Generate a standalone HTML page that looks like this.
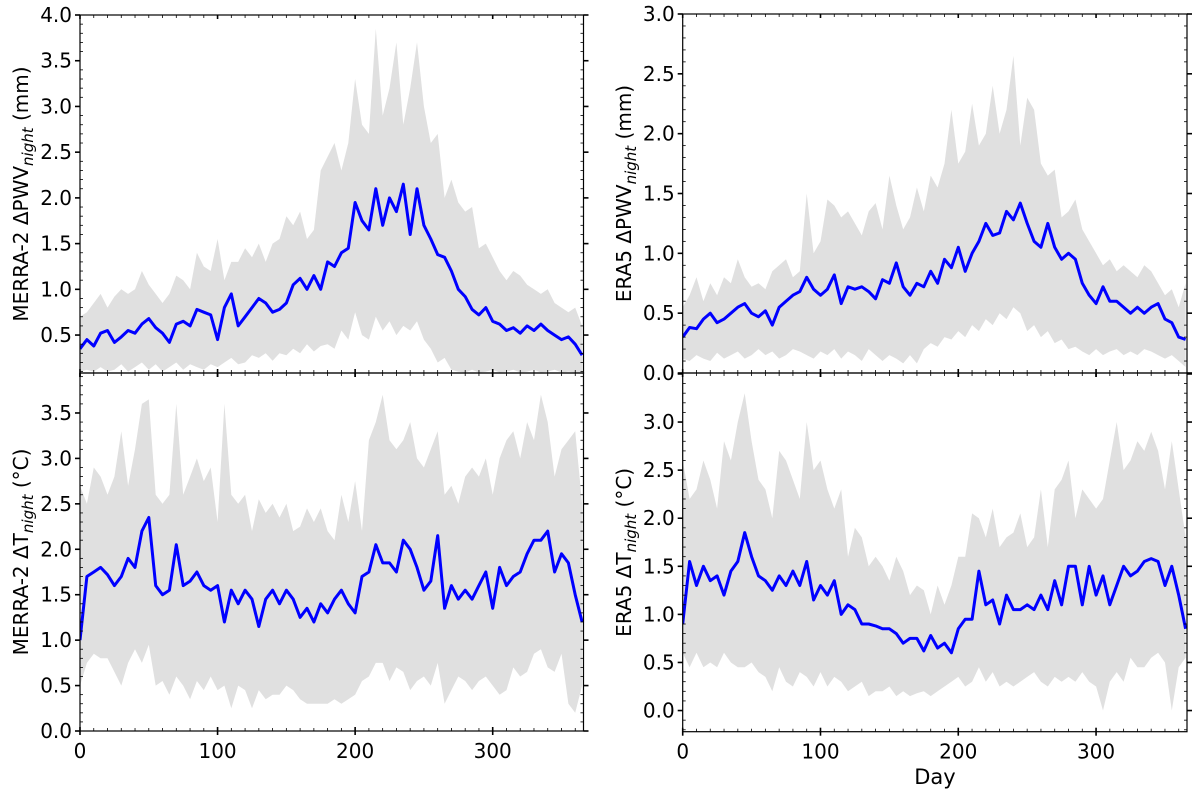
<!DOCTYPE html>
<html><head><meta charset="utf-8"><style>
html,body{margin:0;padding:0;background:#fff}
svg{display:block;font-family:"DejaVu Sans","Liberation Sans",sans-serif}
</style></head><body>
<svg id="chart" width="1200" height="796" viewBox="0 0 1200 796"></svg>
<script>
const days=[0,5,10,15,20,25,30,35,40,45,50,55,60,65,70,75,80,85,90,95,100,105,110,115,120,125,130,135,140,145,150,155,160,165,170,175,180,185,190,195,200,205,210,215,220,225,230,235,240,245,250,255,260,265,270,275,280,285,290,295,300,305,310,315,320,325,330,335,340,345,350,355,360,365];
const merraPwvMean=[0.35,0.45,0.38,0.52,0.55,0.42,0.48,0.55,0.52,0.62,0.68,0.58,0.52,0.42,0.62,0.65,0.60,0.78,0.75,0.72,0.45,0.80,0.95,0.60,0.70,0.80,0.90,0.85,0.75,0.78,0.85,1.05,1.12,1.0,1.15,1.0,1.3,1.25,1.4,1.45,1.95,1.75,1.65,2.1,1.7,2.0,1.85,2.15,1.6,2.1,1.7,1.55,1.38,1.35,1.2,1.0,0.92,0.78,0.72,0.80,0.65,0.62,0.55,0.58,0.52,0.60,0.55,0.62,0.55,0.50,0.45,0.48,0.40,0.28];
const merraPwvUpper=[0.7,0.75,0.85,0.95,0.80,0.92,1.0,0.95,1.0,1.2,1.05,0.95,0.85,0.95,1.15,1.1,1.0,1.4,1.25,1.2,1.55,1.1,1.3,1.3,1.45,1.35,1.5,1.3,1.5,1.55,1.8,1.7,1.85,1.55,1.65,2.3,2.45,2.6,2.3,2.6,3.3,2.8,2.7,3.85,2.9,3.2,3.7,2.8,3.2,3.7,3.0,2.6,2.7,2.0,2.2,1.95,1.85,1.9,1.45,1.5,1.35,1.2,1.1,1.2,1.15,1.05,1.0,0.95,1.0,0.85,0.8,0.75,0.80,0.60];
const merraPwvLower=[0.10,0.12,0.10,0.15,0.10,0.12,0.18,0.10,0.15,0.20,0.12,0.18,0.10,0.15,0.20,0.12,0.18,0.15,0.12,0.18,0.15,0.20,0.25,0.18,0.20,0.28,0.25,0.30,0.22,0.30,0.28,0.35,0.30,0.40,0.32,0.38,0.40,0.35,0.55,0.45,0.75,0.50,0.45,0.70,0.55,0.65,0.50,0.60,0.55,0.65,0.45,0.35,0.20,0.25,0.12,0.10,0.09,0.12,0.09,0.10,0.12,0.09,0.10,0.12,0.09,0.10,0.12,0.09,0.10,0.12,0.09,0.10,0.09,0.09];
const eraPwvMean=[0.30,0.38,0.37,0.45,0.50,0.42,0.45,0.50,0.55,0.58,0.50,0.47,0.52,0.40,0.55,0.60,0.65,0.68,0.80,0.70,0.65,0.70,0.82,0.58,0.72,0.70,0.72,0.68,0.62,0.78,0.75,0.92,0.72,0.65,0.75,0.72,0.85,0.75,0.95,0.88,1.05,0.85,1.0,1.1,1.25,1.15,1.17,1.35,1.28,1.42,1.25,1.1,1.05,1.25,1.05,0.95,1.0,0.95,0.75,0.65,0.58,0.72,0.60,0.60,0.55,0.50,0.55,0.50,0.55,0.58,0.45,0.42,0.30,0.28];
const eraPwvUpper=[0.55,0.65,0.8,0.6,0.75,0.65,0.8,0.75,0.95,0.8,0.72,0.75,0.7,0.85,0.9,0.95,0.8,0.85,1.5,1.0,1.1,1.45,1.4,1.3,1.35,1.25,1.15,1.35,1.42,1.2,1.65,1.4,1.2,1.3,1.55,1.35,1.65,1.55,1.75,2.2,1.75,1.85,2.25,1.9,2.0,2.4,2.0,2.2,2.65,1.9,2.3,2.2,1.75,1.65,1.7,1.3,1.35,1.45,1.2,1.1,1.0,0.9,0.95,0.85,0.9,0.85,0.8,0.9,0.85,0.75,0.65,0.7,0.55,0.75];
const eraPwvLower=[0.12,0.10,0.15,0.12,0.10,0.17,0.12,0.15,0.18,0.12,0.15,0.20,0.15,0.18,0.12,0.15,0.20,0.18,0.15,0.12,0.18,0.15,0.20,0.12,0.18,0.15,0.10,0.20,0.15,0.10,0.15,0.12,0.08,0.15,0.08,0.20,0.25,0.22,0.30,0.28,0.35,0.30,0.40,0.35,0.45,0.40,0.50,0.45,0.55,0.50,0.35,0.40,0.30,0.35,0.25,0.28,0.20,0.22,0.18,0.15,0.20,0.15,0.18,0.20,0.15,0.18,0.15,0.20,0.18,0.15,0.12,0.15,0.10,0.05];
const merraDtMean=[1.0,1.7,1.75,1.8,1.72,1.6,1.7,1.9,1.8,2.2,2.35,1.6,1.5,1.55,2.05,1.6,1.65,1.75,1.6,1.55,1.6,1.2,1.55,1.4,1.55,1.45,1.15,1.45,1.55,1.4,1.55,1.45,1.25,1.35,1.2,1.4,1.3,1.45,1.55,1.4,1.3,1.7,1.75,2.05,1.85,1.85,1.75,2.1,2.0,1.8,1.55,1.65,2.15,1.35,1.6,1.45,1.55,1.45,1.6,1.75,1.35,1.8,1.6,1.7,1.75,1.95,2.1,2.1,2.2,1.75,1.95,1.85,1.5,1.2];
const merraDtUpper=[2.7,2.5,2.9,2.8,2.6,2.8,3.3,2.7,3.1,3.6,3.65,2.6,2.5,2.6,3.6,2.6,2.8,3.0,2.75,2.9,2.3,3.6,2.6,2.5,2.6,2.2,2.55,2.4,2.5,2.35,2.5,2.2,2.25,2.45,2.3,2.45,2.2,2.1,2.6,2.3,2.75,2.2,3.2,3.4,3.7,3.2,3.1,3.2,3.4,3.0,2.9,3.1,3.3,2.6,2.7,2.5,2.8,2.9,2.8,3.0,2.6,3.0,3.2,3.3,3.0,3.4,3.2,3.7,3.4,2.8,3.1,3.2,3.3,2.5];
const merraDtLower=[0.5,0.75,0.85,0.8,0.8,0.65,0.5,0.75,0.9,0.75,0.95,0.5,0.55,0.4,0.6,0.5,0.35,0.55,0.45,0.6,0.45,0.5,0.25,0.5,0.45,0.25,0.45,0.35,0.4,0.4,0.5,0.45,0.35,0.3,0.3,0.3,0.3,0.35,0.3,0.35,0.4,0.55,0.6,0.75,0.75,0.55,0.7,0.65,0.45,0.55,0.6,0.5,0.75,0.3,0.45,0.6,0.55,0.45,0.55,0.6,0.5,0.4,0.45,0.7,0.6,0.65,0.85,0.9,0.7,0.65,0.85,0.3,0.2,0.5];
const eraDtMean=[0.9,1.55,1.3,1.5,1.35,1.4,1.2,1.45,1.55,1.85,1.6,1.4,1.35,1.25,1.4,1.3,1.45,1.3,1.55,1.15,1.3,1.2,1.35,1.0,1.1,1.05,0.9,0.9,0.88,0.85,0.85,0.8,0.7,0.75,0.75,0.62,0.78,0.65,0.7,0.6,0.85,0.95,0.95,1.45,1.1,1.15,0.9,1.2,1.05,1.05,1.1,1.05,1.2,1.05,1.35,1.1,1.5,1.5,1.1,1.5,1.2,1.4,1.1,1.3,1.5,1.4,1.45,1.55,1.58,1.55,1.3,1.5,1.2,0.85];
const eraDtUpper=[2.6,2.2,2.3,2.6,2.4,2.1,2.8,2.6,3.0,3.3,2.8,2.4,2.3,2.0,2.7,2.6,2.4,2.2,3.0,2.5,2.6,2.3,2.1,2.3,1.6,1.9,1.8,1.5,1.6,1.5,1.35,1.6,1.45,1.2,1.3,1.25,1.0,1.3,1.1,1.3,1.6,1.6,2.05,2.0,1.8,2.1,1.7,1.8,1.85,2.05,1.7,1.8,2.3,1.7,2.3,2.4,2.6,2.0,2.3,2.2,2.1,2.2,2.6,3.0,2.5,2.6,2.8,2.7,2.9,2.7,2.3,2.8,2.3,1.8];
const eraDtLower=[0.6,0.45,0.6,0.45,0.5,0.45,0.6,0.5,0.45,0.45,0.5,0.4,0.35,0.2,0.45,0.3,0.25,0.4,0.35,0.25,0.4,0.25,0.35,0.3,0.2,0.25,0.3,0.15,0.2,0.2,0.25,0.15,0.2,0.15,0.18,0.2,0.15,0.2,0.25,0.3,0.35,0.25,0.3,0.45,0.3,0.4,0.25,0.3,0.25,0.3,0.35,0.4,0.3,0.25,0.35,0.3,0.35,0.3,0.4,0.3,0.25,0.0,0.3,0.4,0.3,0.55,0.45,0.45,0.55,0.6,0.5,0.0,0.45,0.55];
const xTicks=[0,100,200,300];
const tlTicks=["0.5","1.0","1.5","2.0","2.5","3.0","3.5","4.0"];
const trTicks=["0.0","0.5","1.0","1.5","2.0","2.5","3.0"];
const blTicks=["0.0","0.5","1.0","1.5","2.0","2.5","3.0","3.5"];
const brTicks=["0.0","0.5","1.0","1.5","2.0","2.5","3.0"];

const NS="http://www.w3.org/2000/svg";
const svg=document.getElementById('chart');
function mk(tag,attrs,parent){const e=document.createElementNS(NS,tag);for(const k in attrs)e.setAttribute(k,attrs[k]);(parent||svg).appendChild(e);return e;}

const panels=[
 {name:'merra-pwv',x0:80,x1:583.5,y0:15,y1:373,ymin:0.085,ymax:4.0,mean:merraPwvMean,up:merraPwvUpper,lo:merraPwvLower,ticks:tlTicks,xl:false,lab:['MERRA-2 ΔPWV','night',' (mm)'],lx:28},
 {name:'era5-pwv',x0:682.7,x1:1187,y0:14,y1:373,ymin:0,ymax:3.0,mean:eraPwvMean,up:eraPwvUpper,lo:eraPwvLower,ticks:trTicks,xl:false,lab:['ERA5 ΔPWV','night',' (mm)'],lx:631},
 {name:'merra-dt',x0:80,x1:583.5,y0:373,y1:731,ymin:0,ymax:3.94,mean:merraDtMean,up:merraDtUpper,lo:merraDtLower,ticks:blTicks,xl:true,lab:['MERRA-2 ΔT','night',' (°C)'],lx:28},
 {name:'era5-dt',x0:682.7,x1:1187,y0:373,y1:731.7,ymin:-0.22,ymax:3.51,mean:eraDtMean,up:eraDtUpper,lo:eraDtLower,ticks:brTicks,xl:true,lab:['ERA5 ΔT','night',' (°C)'],lx:631}
];
const XMAX=366;
panels.forEach(p=>{
  const g=mk('g',{});
  
  
  const sx=d=>p.x0+(d/XMAX)*(p.x1-p.x0);
  const sy=v=>p.y1-(v-p.ymin)/(p.ymax-p.ymin)*(p.y1-p.y0);
  const cid='clip-'+p.name;
  const cp=mk('clipPath',{id:cid},g);mk('rect',{x:p.x0,y:p.y0,width:p.x1-p.x0,height:p.y1-p.y0},cp);
  const n=Math.min(days.length,p.mean.length,p.up.length,p.lo.length);
  let d='';
  for(let i=0;i<n;i++)d+=(i?'L':'M')+sx(days[i]).toFixed(1)+','+sy(p.up[i]).toFixed(1);
  for(let i=n-1;i>=0;i--)d+='L'+sx(days[i]).toFixed(1)+','+sy(p.lo[i]).toFixed(1);
  const band=mk('path',{d:d+'Z',fill:'#e0e0e0',stroke:'none','clip-path':'url(#'+cid+')'},g);
  
  
  let m='';
  for(let i=0;i<n;i++)m+=(i?'L':'M')+sx(days[i]).toFixed(1)+','+sy(p.mean[i]).toFixed(1);
  const line=mk('path',{d:m,fill:'none',stroke:'#0000ff','stroke-width':3,'stroke-linejoin':'round','clip-path':'url(#'+cid+')'},g);
  
  
  const fr=mk('rect',{x:p.x0,y:p.y0,width:p.x1-p.x0,height:p.y1-p.y0,fill:'none',stroke:'#000','stroke-width':1.2},g);
  
  
  for(let t=0;t<=XMAX;t+=10){
    const x=sx(t),maj=t%100===0;
    mk('line',{x1:x,x2:x,y1:p.y1-(maj?4:3),y2:p.y1+(maj?4:0),stroke:'#000','stroke-width':maj?1.6:0.8},g);
    mk('line',{x1:x,x2:x,y1:p.y0,y2:p.y0+(maj?4:3),stroke:'#000','stroke-width':maj?1.6:0.8},g);
  }
  if(p.xl){xTicks.forEach(t=>{const tx=mk('text',{x:sx(t),y:p.y1+27,'font-size':20,'text-anchor':'middle',fill:'#000'},g);tx.textContent=t;
    
    });}
  const lo=Math.ceil(p.ymin*10),hi=Math.floor(p.ymax*10);
  for(let k=lo;k<=hi;k++){
    const y=sy(k/10),maj=k%5===0;
    mk('line',{x1:p.x0-(maj?5:0),x2:p.x0+(maj?0:3),y1:y,y2:y,stroke:'#000','stroke-width':maj?1.6:0.8},g);
    mk('line',{x1:p.x1-(maj?0:3),x2:p.x1+(maj?5:0),y1:y,y2:y,stroke:'#000','stroke-width':maj?1.6:0.8},g);
  }
  p.ticks.forEach(s=>{const tx=mk('text',{x:p.x0-8,y:sy(parseFloat(s))+7,'font-size':20,'text-anchor':'end',fill:'#000'},g);tx.textContent=s;
    
    });
  const cy=(p.y0+p.y1)/2;
  const yl=mk('text',{x:p.lx,y:cy,'font-size':20,'text-anchor':'middle',transform:'rotate(-90 '+p.lx+' '+cy+')',fill:'#000'},g);
  
  
  const t1=mk('tspan',{},yl);t1.textContent=p.lab[0];
  const t2=mk('tspan',{'font-size':15,'font-style':'italic',dy:5},yl);t2.textContent=p.lab[1];
  const t3=mk('tspan',{dy:-5},yl);t3.textContent=p.lab[2];
});
const xt=mk('text',{x:935,y:784,'font-size':21,'text-anchor':'middle',fill:'#000'});
xt.textContent='Day';


</script>
</body></html>
